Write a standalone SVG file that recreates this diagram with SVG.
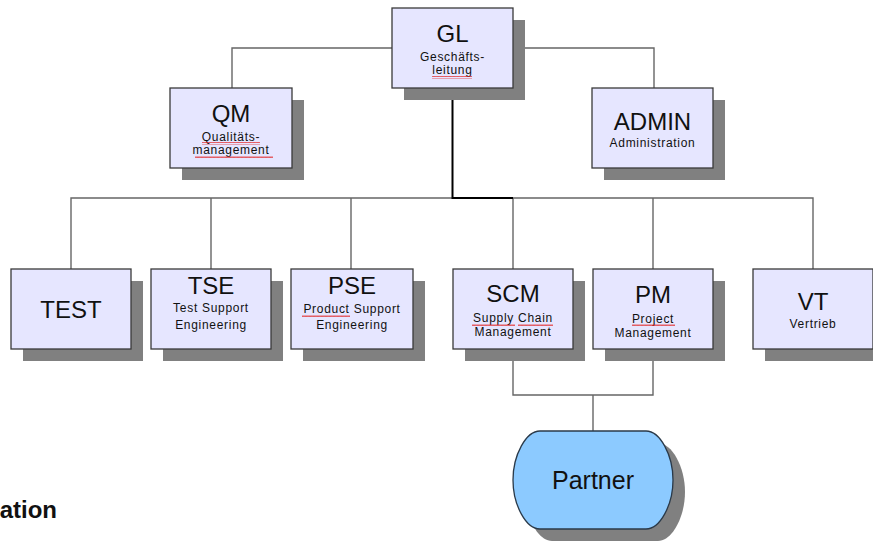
<svg xmlns="http://www.w3.org/2000/svg" width="873" height="541" viewBox="0 0 873 541">
  <style>
    .box { fill: #e6e6ff; stroke: #3a3a3a; stroke-width: 1.3; }
    .shadow { fill: #808080; }
    .partner { fill: #8ccaff; stroke: #2a3a4a; stroke-width: 1.3; }
    .title { font-family: "Liberation Sans", Arial, sans-serif; font-size: 24px; fill: #111; text-anchor: middle; }
    .sub { font-family: "Liberation Sans", Arial, sans-serif; font-size: 12px; letter-spacing: 0.7px; fill: #111; text-anchor: middle; }
    .line { fill: none; stroke: #666; stroke-width: 1.4; }
    .main { fill: none; stroke: #000; stroke-width: 2; }
    .caption { font-family: "Liberation Sans", Arial, sans-serif; font-size: 24px; font-weight: bold; fill: #111; text-anchor: end; }
  </style>
  <defs>
    <!-- red squiggle used to mark unknown words -->
    <pattern id="wave" width="4" height="3" patternUnits="userSpaceOnUse">
      <path d="M0,2 L1,0.5 L2,2 L3,0.5 L4,2" fill="none" stroke="#e02020" stroke-width="0.8"/>
    </pattern>
  </defs>
  <rect width="873" height="541" fill="#ffffff"/>

  <!-- connectors -->
  <g id="connectors">
    <path class="line" d="M232,88 V48 H392 M513,48 H654 V88"/>
    <path class="line" d="M71,269 V198 H813 V269 M211,198 V269 M351,198 V269 M513,198 V269 M653,198 V269"/>
    <path class="line" d="M513,349 V395 H653 V349 M593,395 V431"/>
    <path class="main" d="M452.5,88 V198 H513"/>
  </g>

  <g id="GL">
    <rect class="shadow" x="404" y="20" width="121" height="80"/>
    <rect class="box" x="392" y="8" width="121" height="80"/>
    <text class="title" x="452.5" y="42">GL</text>
    <text class="sub" x="452.5" y="61">Geschäfts-</text>
    <text class="sub" x="452.5" y="74">leitung</text>
    <rect x="432" y="76" width="40" height="3" fill="url(#wave)"/>
  </g>

  <g id="QM">
    <rect class="shadow" x="182" y="100" width="122" height="80"/>
    <rect class="box" x="170" y="88" width="122" height="80"/>
    <text class="title" x="231" y="122">QM</text>
    <text class="sub" x="231" y="141">Qualitäts-</text>
    <text class="sub" x="231" y="154">management</text>
    <rect x="202" y="142" width="58" height="3" fill="url(#wave)"/>
    <rect x="195" y="156" width="78" height="3" fill="url(#wave)"/>
  </g>

  <g id="ADMIN">
    <rect class="shadow" x="604" y="100" width="121" height="80"/>
    <rect class="box" x="592" y="88" width="121" height="80"/>
    <text class="title" x="652.5" y="130">ADMIN</text>
    <text class="sub" x="652.5" y="147">Administration</text>
  </g>

  <g id="TEST">
    <rect class="shadow" x="23" y="281" width="120" height="80"/>
    <rect class="box" x="11" y="269" width="120" height="80"/>
    <text class="title" x="71" y="318">TEST</text>
  </g>

  <g id="TSE">
    <rect class="shadow" x="163" y="281" width="120" height="80"/>
    <rect class="box" x="151" y="269" width="120" height="80"/>
    <text class="title" x="211" y="294">TSE</text>
    <text class="sub" x="211" y="312">Test Support</text>
    <text class="sub" x="211" y="329">Engineering</text>
  </g>

  <g id="PSE">
    <rect class="shadow" x="303" y="281" width="122" height="80"/>
    <rect class="box" x="291" y="269" width="122" height="80"/>
    <text class="title" x="352" y="294">PSE</text>
    <text class="sub" x="352" y="313">Product Support</text>
    <text class="sub" x="352" y="329">Engineering</text>
    <rect x="302" y="314" width="48" height="3" fill="url(#wave)"/>
  </g>

  <g id="SCM">
    <rect class="shadow" x="465" y="281" width="120" height="80"/>
    <rect class="box" x="453" y="269" width="120" height="80"/>
    <text class="title" x="513" y="302">SCM</text>
    <text class="sub" x="513" y="322">Supply Chain</text>
    <text class="sub" x="513" y="336">Management</text>
    <rect x="472" y="324" width="43" height="3" fill="url(#wave)"/>
    <rect x="518" y="324" width="35" height="3" fill="url(#wave)"/>
  </g>

  <g id="PM">
    <rect class="shadow" x="605" y="281" width="120" height="80"/>
    <rect class="box" x="593" y="269" width="120" height="80"/>
    <text class="title" x="653" y="303">PM</text>
    <text class="sub" x="653" y="323">Project</text>
    <text class="sub" x="653" y="337">Management</text>
    <rect x="632" y="324" width="43" height="3" fill="url(#wave)"/>
  </g>

  <g id="VT">
    <rect class="shadow" x="765" y="281" width="120" height="80"/>
    <rect class="box" x="753" y="269" width="120" height="80"/>
    <text class="title" x="813" y="310">VT</text>
    <text class="sub" x="813" y="328">Vertrieb</text>
  </g>

  <g id="Partner">
    <path class="shadow" d="M552,443 H658 C672,443 685,467 685,492 C685,517 672,541 658,541 H552 C538,541 525,517 525,492 C525,467 538,443 552,443 Z"/>
    <path class="partner" d="M540,431 H646 C660,431 673,455 673,480 C673,505 660,529 646,529 H540 C526,529 513,505 513,480 C513,455 526,431 540,431 Z"/>
    <text class="title" x="593" y="489" style="font-size:25px">Partner</text>
  </g>

  <text class="caption" x="57" y="518">ation</text>
</svg>
